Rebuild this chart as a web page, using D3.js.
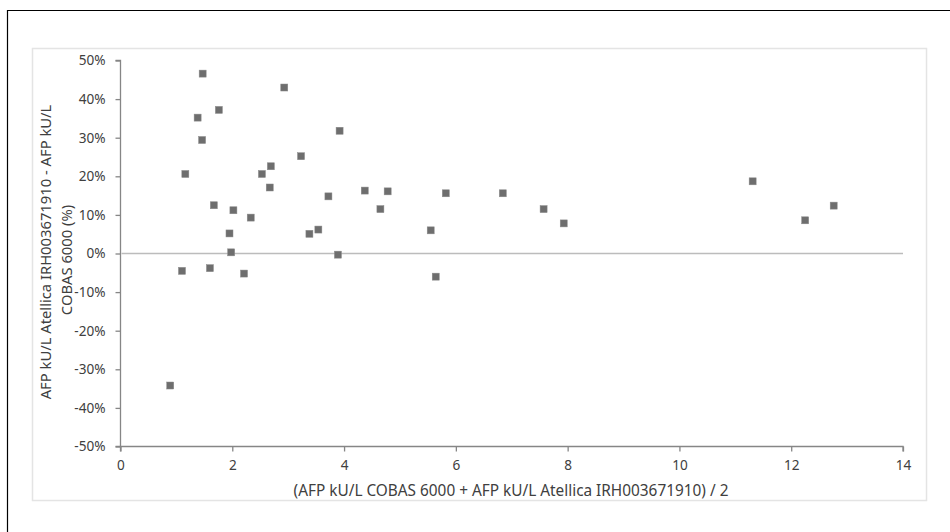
<!DOCTYPE html>
<html><head><meta charset="utf-8">
<script src="https://cdn.jsdelivr.net/npm/d3@7"></script>
<style>body{margin:0;background:#fff}svg{display:block}text{font-family:"Noto Sans",sans-serif;fill:#404040}</style>
</head><body><svg id="c" width="950" height="532"></svg>
<script>
// data
const meanValues = [0.89,1.10,1.16,1.38,1.47,1.46,1.76,1.67,1.60,1.95,1.98,2.02,2.21,2.33,2.53,2.67,2.69,2.93,3.23,3.38,3.54,3.72,3.89,3.92,4.37,4.65,4.78,5.55,5.64,5.82,6.84,7.57,7.93,11.31,12.25,12.76];
const pctDiff    = [-34.2,-4.5,20.6,35.2,46.6,29.4,37.2,12.5,-3.8,5.2,0.3,11.2,-5.2,9.3,20.6,17.1,22.6,43.0,25.2,5.1,6.2,14.8,-0.3,31.8,16.3,11.5,16.1,6.0,-6.0,15.6,15.6,11.5,7.8,18.7,8.6,12.4];
const xTicks = [0,2,4,6,8,10,12,14];
const yTicks = [-50,-40,-30,-20,-10,0,10,20,30,40,50];
const xTitle = "(AFP kU/L COBAS 6000 + AFP kU/L Atellica IRH003671910) / 2";
const yTitleLines = ["AFP kU/L Atellica IRH003671910 - AFP kU/L", "COBAS 6000 (%)"];

const svg = d3.select("#c");
// outer border (cropped at right/bottom)
svg.append("path").attr("d","M7.5,540V10.5H960").attr("fill","none").attr("stroke","#000").attr("stroke-width",1.2);
// chart area border
svg.append("rect").attr("x",32.5).attr("y",48.5).attr("width",894).attr("height",452)
  .attr("fill","none").attr("stroke","#e4e4e4").attr("stroke-width",1.5);

const x = d3.scaleLinear().domain([0,14]).range([120.5,903]);
const y = d3.scaleLinear().domain([-50,50]).range([446.5,60.5]);

const fs = 13.6;
// y axis
const ya = svg.append("g").attr("transform","translate(120.5,0)")
  .call(d3.axisLeft(y).tickValues(yTicks).tickSize(5).tickPadding(10).tickFormat(d=>d+"%"));
// x axis
const xa = svg.append("g").attr("transform","translate(0,446.5)")
  .call(d3.axisBottom(x).tickValues(xTicks).tickSize(5).tickPadding(9).tickFormat(d3.format("d")));
[ya,xa].forEach(a=>{
  a.select(".domain").attr("stroke","#868686").attr("stroke-width",1.3);
  a.selectAll(".tick line").attr("stroke","#868686").attr("stroke-width",1.3);
  a.selectAll("text").style("font-family",'"Noto Sans",sans-serif').style("font-size",fs+"px").attr("fill","#404040");
});
ya.select(".domain").attr("d","M-5,446.5H0V60.5H-5");
xa.select(".domain").attr("d","M120.5,5V0H903V5");

// zero line
svg.append("line").attr("x1",x(0)+1).attr("x2",x(14)).attr("y1",y(0)).attr("y2",y(0))
  .attr("stroke","#bcbcbc").attr("stroke-width",1.6);

// points
svg.append("g").selectAll("rect").data(meanValues).join("rect")
  .attr("x",(d,i)=>x(d)-3.5).attr("y",(d,i)=>y(pctDiff[i])-3.5)
  .attr("width",7).attr("height",7).attr("fill","#6e6e6e").attr("stroke","#8a8a8a").attr("stroke-width",0.5);

// x title
const xt = svg.append("text").attr("x",511).attr("y",496).attr("text-anchor","middle")
  .style("font-size","14px").text(xTitle);
function fit(t,w){const l=t.node().getComputedTextLength();const s=parseFloat(t.style("font-size"));t.style("font-size",(s*w/l)+"px");}
fit(xt,435);
// y title
const yt = svg.append("g").attr("transform","translate(0,252) rotate(-90)");
const l1 = yt.append("text").attr("x",0).attr("y",51).attr("text-anchor","middle").style("font-size","14px").text(yTitleLines[0]);
fit(l1,295);
const l2 = yt.append("text").attr("x",-8).attr("y",72).attr("text-anchor","middle").style("font-size",l1.style("font-size")).text(yTitleLines[1]);
</script></body></html>
